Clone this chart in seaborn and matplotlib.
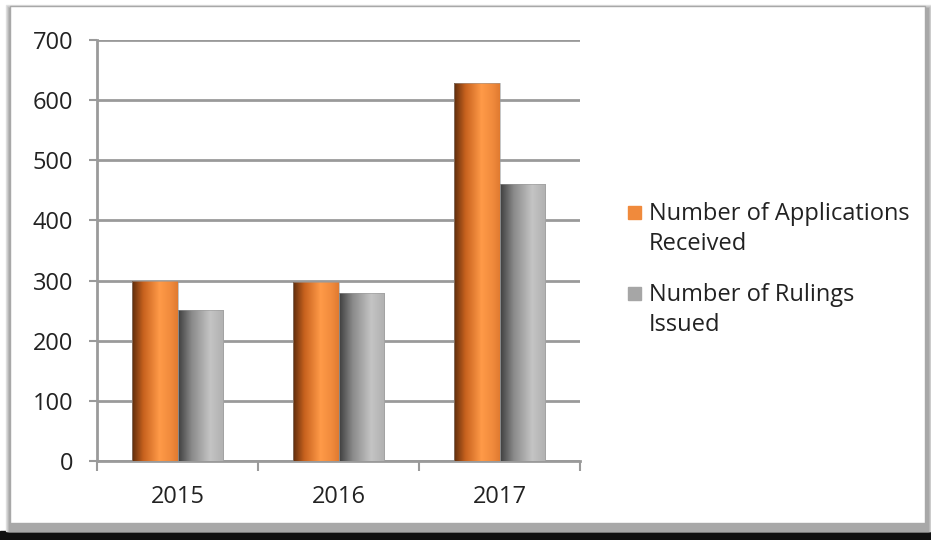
import numpy as np
import pandas as pd
import matplotlib
matplotlib.use("Agg")
import matplotlib.pyplot as plt
import seaborn as sns
from matplotlib.patches import Rectangle
from matplotlib.colors import LinearSegmentedColormap

years = ["2015", "2016", "2017"]
applications = [300, 297, 629]
rulings = [251, 279, 460]
series_names = ["Number of Applications\nReceived", "Number of Rulings\nIssued"]
y_ticks = [0, 100, 200, 300, 400, 500, 600, 700]

df = pd.DataFrame({
    "year": years * 2,
    "value": applications + rulings,
    "series": [series_names[0]] * 3 + [series_names[1]] * 3,
})

sns.set_theme(style="white")
plt.rcParams["font.family"] = ["Open Sans", "DejaVu Sans"]

fig = plt.figure(figsize=(9.31, 5.4), dpi=100)
W, H = 931, 540

# panel frame: dark strip at the bottom, soft shadow, white card
bg = fig.add_axes([0, 0, 1, 1], zorder=-10)
bg.set_xlim(0, W)
bg.set_ylim(H, 0)
bg.axis("off")
bg.add_patch(Rectangle((0, 0), W, H, color="white"))
bg.add_patch(Rectangle((0, 531), W, 9, color="#111111"))
for i, c in enumerate(["#e2e2e2", "#d0d0d0", "#bcbcbc", "#a8a8a8"]):
    bg.add_patch(Rectangle((6 + i, 5 + i), 925 - 2 * i, 526 - i, color=c))
bg.add_patch(Rectangle((10, 6), 915, 517, facecolor="white", edgecolor="#a8a8a8", lw=1.0))

ax = fig.add_axes([97 / W, (H - 461) / H, (580 - 97) / W, (461 - 40) / H])
palette = {series_names[0]: "#f08a3c", series_names[1]: "#a6a6a6"}
sns.barplot(data=df, x="year", y="value", hue="series", palette=palette,
            order=years, hue_order=series_names, width=0.57, gap=0,
            saturation=1, ax=ax, zorder=3, linewidth=0, legend=False)

# cylindrical shading on every bar
orange_cmap = LinearSegmentedColormap.from_list(
    "o", [(0, "#5e2c0c"), (0.25, "#c8621e"), (0.6, "#ff9a48"), (0.85, "#f08a3c"), (1, "#e07a30")])
gray_cmap = LinearSegmentedColormap.from_list(
    "g", [(0, "#3e3e3e"), (0.3, "#8a8a8a"), (0.7, "#c4c4c4"), (1, "#b0b0b0")])
grad = np.linspace(0, 1, 256).reshape(1, -1)
n = len(years)
for i, p in enumerate(ax.patches[: 2 * n]):
    cmap = orange_cmap if i < n else gray_cmap
    x0, y0 = p.get_x(), p.get_y()
    w, h = p.get_width(), p.get_height()
    im = ax.imshow(grad, cmap=cmap, aspect="auto", extent=[x0, x0 + w, y0, y0 + h],
                   zorder=4, interpolation="bilinear")
    im.set_clip_path(p)
    ax.add_patch(Rectangle((x0, y0), w, h, fill=False, edgecolor="#9a9a9a", lw=0.4, zorder=5))

ax.set_xlim(-0.5, 2.5)
ax.set_ylim(0, 700)
ax.set_yticks(y_ticks)
ax.set_xlabel("")
ax.set_ylabel("")
ax.grid(axis="y", color="#9a9a9a", lw=2.0, zorder=0)
for s in ["top", "right"]:
    ax.spines[s].set_visible(False)
for s in ["left", "bottom"]:
    ax.spines[s].set_color("#9a9a9a")
    ax.spines[s].set_linewidth(2.0)
ax.tick_params(axis="y", length=6, width=1.5, color="#9a9a9a", left=True,
               labelsize=17, labelcolor="#222222", pad=11)
ax.set_xticks([-0.5, 0.5, 1.5, 2.5], minor=True)
ax.tick_params(axis="x", which="major", length=0, labelsize=17, labelcolor="#222222", pad=17)
ax.tick_params(axis="x", which="minor", length=7, width=1.5, color="#9a9a9a", bottom=True)

# legend: square key aligned with the first line of each two-line label
legend_rows = [206, 287]
for name, top in zip(series_names, legend_rows):
    bg.add_patch(Rectangle((628, top), 13, 13, color=palette[name]))
    bg.text(649, top - 4, name, fontsize=17, color="#222222", va="top", ha="left",
            linespacing=1.33)

fig.savefig("out.png", dpi=100)
